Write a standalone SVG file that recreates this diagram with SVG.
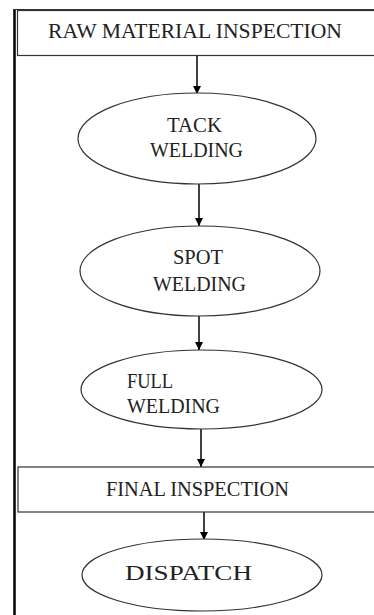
<svg xmlns="http://www.w3.org/2000/svg" width="374" height="615" viewBox="0 0 374 615">
<defs>
<marker id="ah" viewBox="0 0 10 10" refX="10" refY="5" markerWidth="8" markerHeight="8" markerUnits="userSpaceOnUse" orient="auto">
<path d="M0,0 L10,5 L0,10 Z" fill="#000"/>
</marker>
<style>
.t{font-family:"Liberation Serif","Times New Roman",serif;font-size:20px;fill:#222}
.s{fill:#fff;stroke:#333;stroke-width:1.2}
.c{stroke:#000;stroke-width:1.5;fill:none;marker-end:url(#ah)}
</style>
</defs>
<rect width="374" height="615" fill="#fff"/>
<g id="frame">
<line x1="14.5" y1="9.5" x2="14.5" y2="615" stroke="#000" stroke-width="2.5"/>
<line x1="13" y1="9.5" x2="374" y2="9.5" stroke="#333" stroke-width="1.2"/>
</g>
<g id="connectors">
<line class="c" x1="197" y1="56" x2="197" y2="94"/>
<line class="c" x1="199" y1="184" x2="199" y2="226"/>
<line class="c" x1="199" y1="316" x2="199" y2="350"/>
<line class="c" x1="201" y1="429" x2="201" y2="467"/>
<line class="c" x1="204" y1="512" x2="204" y2="540"/>
</g>
<g id="raw">
<rect class="s" x="17.5" y="10.5" width="370" height="45"/>
<text class="t" x="48" y="38" textLength="294" lengthAdjust="spacingAndGlyphs">RAW MATERIAL  INSPECTION</text>
</g>
<g id="tack">
<ellipse class="s" cx="197" cy="138.5" rx="119" ry="45.5"/>
<text class="t" x="167" y="132" textLength="55" lengthAdjust="spacingAndGlyphs">TACK</text>
<text class="t" x="150" y="157" textLength="93" lengthAdjust="spacingAndGlyphs">WELDING</text>
</g>
<g id="spot">
<ellipse class="s" cx="200" cy="271" rx="120" ry="45"/>
<text class="t" x="173" y="264" textLength="50" lengthAdjust="spacingAndGlyphs">SPOT</text>
<text class="t" x="153" y="291" textLength="93" lengthAdjust="spacingAndGlyphs">WELDING</text>
</g>
<g id="full">
<ellipse class="s" cx="201.5" cy="389.5" rx="120.5" ry="39.5"/>
<text class="t" x="127" y="388" textLength="46" lengthAdjust="spacingAndGlyphs">FULL</text>
<text class="t" x="127" y="413" textLength="93" lengthAdjust="spacingAndGlyphs">WELDING</text>
</g>
<g id="final">
<rect class="s" x="18" y="467" width="370" height="45"/>
<text class="t" x="106" y="496" textLength="183" lengthAdjust="spacingAndGlyphs">FINAL  INSPECTION</text>
</g>
<g id="dispatch">
<ellipse class="s" cx="202" cy="575" rx="120" ry="36"/>
<text class="t" x="125" y="580" textLength="127" lengthAdjust="spacingAndGlyphs">DISPATCH</text>
</g>
</svg>
